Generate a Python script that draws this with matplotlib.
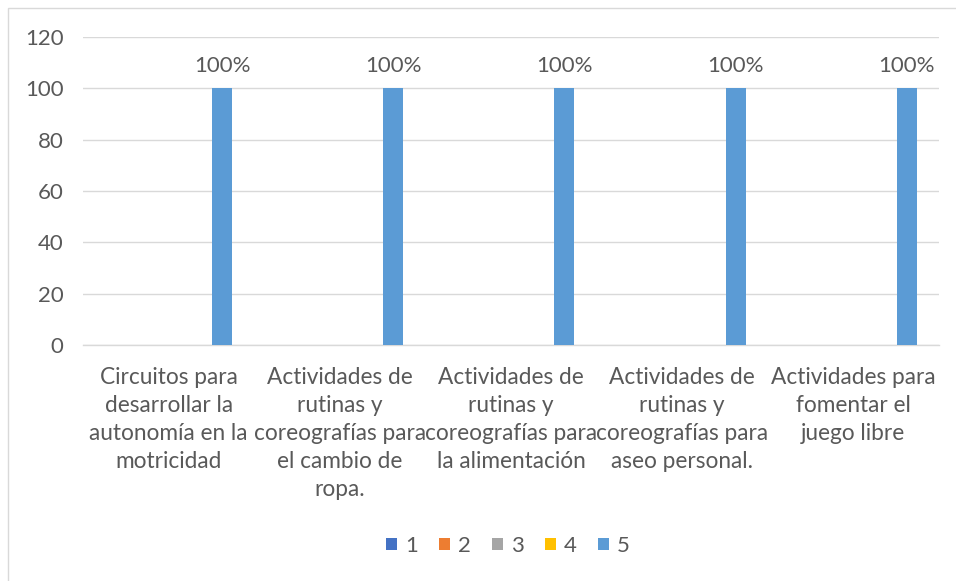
import matplotlib
matplotlib.use("Agg")
from matplotlib import pyplot as plt
from matplotlib.patches import Rectangle
import numpy as np

# Chart data
categories = [
    "Circuitos para\ndesarrollar la\nautonomía en la\nmotricidad",
    "Actividades de\nrutinas y\ncoreografías para\nel cambio de\nropa.",
    "Actividades de\nrutinas y\ncoreografías para\nla alimentación",
    "Actividades de\nrutinas y\ncoreografías para\naseo personal.",
    "Actividades para\nfomentar el\njuego libre",
]
series_names = ["1", "2", "3", "4", "5"]
series_values = [
    [0, 0, 0, 0, 0],
    [0, 0, 0, 0, 0],
    [0, 0, 0, 0, 0],
    [0, 0, 0, 0, 0],
    [100, 100, 100, 100, 100],
]
series_colors = ["#4472C4", "#ED7D31", "#A5A5A5", "#FFC000", "#5B9BD5"]
yticks = [0, 20, 40, 60, 80, 100, 120]

plt.rcParams['font.family'] = ['Lato', 'DejaVu Sans']
text_color = "#595959"

fig = plt.figure(figsize=(9.56, 5.81), dpi=100)
W, H = 956, 581
# plot area in pixels: x 83..939, y 37..345
ax = fig.add_axes([83 / W, 1 - 345 / H, (939 - 83) / W, (345 - 37) / H])

# thin frame around the chart area
fig.patches.append(Rectangle((8 / W, -0.1), 1.2, 1 - 8 / H + 0.1,
                             transform=fig.transFigure, fill=False,
                             edgecolor="#D9D9D9", linewidth=1))

x = np.arange(len(categories))
bar_w = 0.117
step = 0.156
for k, (name, vals, col) in enumerate(zip(series_names, series_values, series_colors)):
    pos = x + (k - 2) * step
    bars = ax.bar(pos, vals, width=bar_w, color=col, label=name, zorder=3)
    if k == 4:
        for b, v in zip(bars, vals):
            ax.text(b.get_x() + b.get_width() / 2, v + 5, f"{v}%",
                    ha="center", va="bottom", fontsize=16, color=text_color)

ax.set_xlim(-0.5, len(categories) - 0.5)
ax.set_ylim(0, 120)
ax.set_yticks(yticks)
ax.set_xticks(x)
ax.set_xticklabels(categories, fontsize=16.3, color=text_color, linespacing=1.42)
ax.tick_params(axis="y", labelsize=16, colors=text_color, length=0, pad=14)
ax.tick_params(axis="x", length=0, pad=15.5)
ax.grid(axis="y", color="#D9D9D9", linewidth=1, zorder=0)
for side in ["top", "right", "left"]:
    ax.spines[side].set_visible(False)
ax.spines["bottom"].set_color("#D9D9D9")
ax.spines["bottom"].set_linewidth(1)

leg = fig.legend(loc="center", bbox_to_anchor=(508 / W, 1 - 546 / H), ncol=5,
                 frameon=False, fontsize=16, handlelength=0.5, handleheight=0.5,
                 handletextpad=0.35, columnspacing=0.95)
for t in leg.get_texts():
    t.set_color(text_color)

fig.savefig("out.png", dpi=100)
plt.close(fig)
